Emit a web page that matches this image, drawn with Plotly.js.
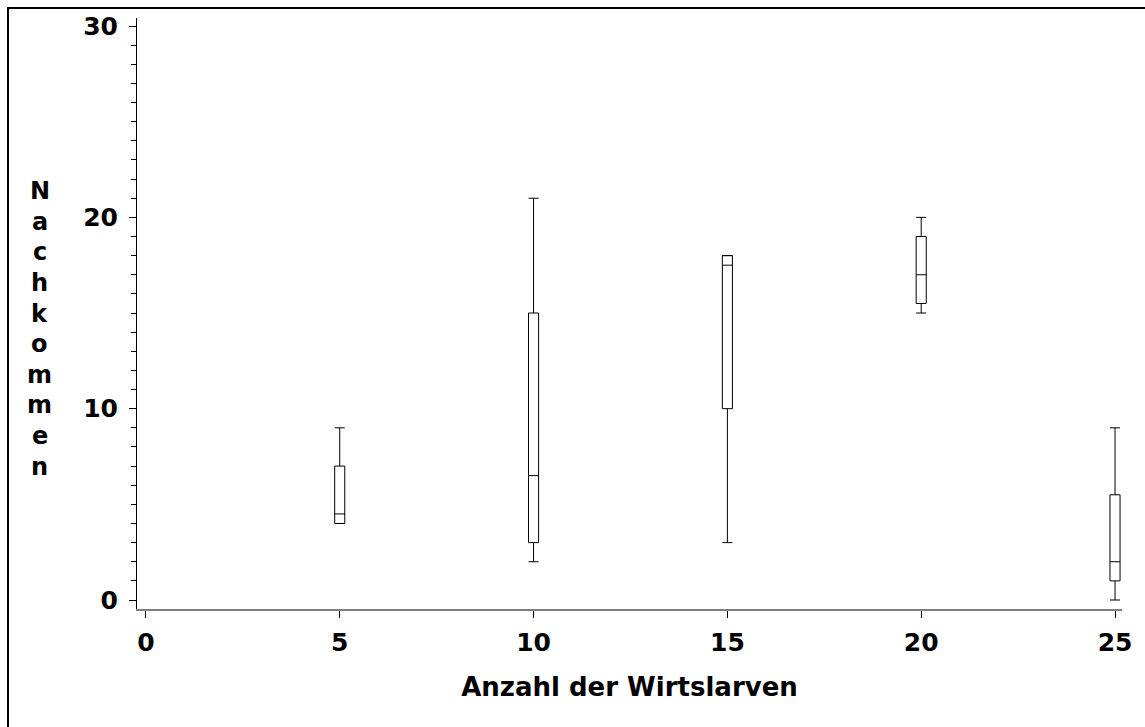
<!DOCTYPE html>
<html>
<head>
<meta charset="utf-8">
<script src="https://cdn.plot.ly/plotly-3.0.1.min.js"></script>
<style>
  html, body { margin: 0; padding: 0; background: #fff; overflow: hidden; }
  #chart { position: absolute; left: 0; top: 0; width: 1145px; height: 727px; }
  #frame { position: absolute; left: 7px; top: 7px; width: 1300px; height: 900px;
           border: 2px solid #000; pointer-events: none; z-index: 10; }
</style>
</head>
<body>
<div id="chart"></div>
<div id="frame"></div>
<script>
// Data (box statistics per number of host larvae)
const hostLarvae  = [5, 10, 15, 20, 25];
const lowerWhisk  = [4, 2, 3, 15, 0];
const q1Values    = [4, 3, 10, 15.5, 1];
const medians     = [4.5, 6.5, 17.5, 17, 2];
const q3Values    = [7, 15, 18, 19, 5.5];
const upperWhisk  = [9, 21, 18, 20, 9];

const xTickVals = [0, 5, 10, 15, 20, 25];
const yTickVals = [0, 10, 20, 30];
const xTitle = "Anzahl der Wirtslarven";
const yTitle = "Nachkommen";

const FONT = "DejaVu Sans, Liberation Sans, Arial, sans-serif";

const trace = {
  type: "box",
  x: hostLarvae,
  q1: q1Values,
  median: medians,
  q3: q3Values,
  lowerfence: lowerWhisk,
  upperfence: upperWhisk,
  width: 0.26,
  whiskerwidth: 1,
  fillcolor: "#ffffff",
  line: { color: "#000000", width: 1 },
  boxpoints: false,
  hoverinfo: "skip",
  showlegend: false
};

// stacked vertical y title, one letter per line
const letters = yTitle.split("");
const annotations = letters.map((ch, i) => ({
  text: ch,
  xref: "paper", yref: "paper",
  x: -0.0985, y: 0.474,
  yshift: ((letters.length - 1) / 2 - i) * 30.6,
  xanchor: "center", yanchor: "middle",
  showarrow: false,
  font: { family: FONT, size: 24, color: "#000", weight: "bold" }
}));

const layout = {
  width: 1145, height: 727,
  margin: { l: 137, r: 23, t: 18, b: 118 },
  paper_bgcolor: "#ffffff",
  plot_bgcolor: "#ffffff",
  showlegend: false,
  xaxis: {
    range: [-0.23, 25.18],
    tickvals: xTickVals,
    ticktext: xTickVals.map(String),
    ticks: "outside", ticklen: 7, tickwidth: 1, tickcolor: "#000",
    showline: true, linecolor: "#808080", linewidth: 2,
    showgrid: false, zeroline: false,
    ticklabelstandoff: 3,
    tickfont: { family: FONT, size: 25, color: "#000", weight: "bold" },
    title: { text: xTitle, standoff: 22,
             font: { family: FONT, size: 26, color: "#000", weight: "bold" } }
  },
  yaxis: {
    range: [-0.47, 30.42],
    tickvals: yTickVals,
    ticks: "outside", ticklen: 7, tickwidth: 1, tickcolor: "#000",
    minor: { dtick: 1, ticks: "outside", ticklen: 5, tickwidth: 1, tickcolor: "#000" },
    showline: true, linecolor: "#000", linewidth: 1,
    showgrid: false, zeroline: false,
    ticklabelstandoff: 6,
    tickfont: { family: FONT, size: 25, color: "#000", weight: "bold" }
  },
  annotations: annotations
};

Plotly.newPlot("chart", [trace], layout, { displayModeBar: false, staticPlot: true });
</script>
</body>
</html>
